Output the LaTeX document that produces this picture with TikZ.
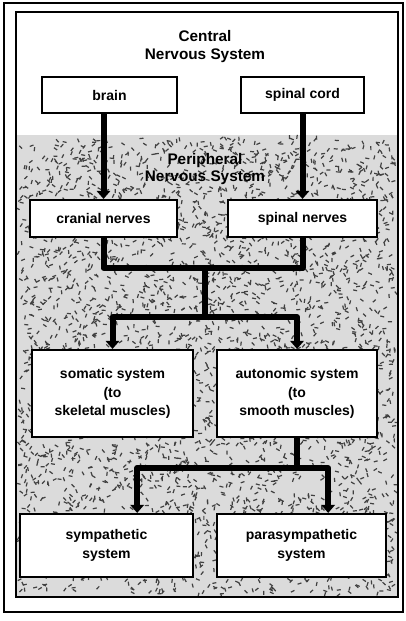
\documentclass[tikz,border=0pt]{standalone}
\usepackage{fontspec}
\setmainfont{Liberation Sans}
\usetikzlibrary{arrows.meta}

\tikzset{
  sysbox/.style={draw, line width=1.6pt, fill=white, align=center, inner sep=0pt,
    font=\bfseries\fontsize{10.5}{14}\selectfont},
  heading/.style={align=center, font=\bfseries\fontsize{11.5}{13}\selectfont},
  trunk/.style={line width=4.5pt, line join=round},
  flow/.style={trunk, -{Triangle[width=10pt,length=6pt]}},
  speck/.style={black!75, line width=0.9pt}
}

\begin{document}
\begin{tikzpicture}[x=0.75pt, y=-0.75pt]
  \useasboundingbox (0,0) rectangle (406,621);
  % frames and shaded peripheral part
  \draw[line width=1.2pt] (4,3) rectangle (403,612);
  \fill[black!14] (16,135) rectangle (398,597);
  \pgfmathsetseed{11}
  \foreach \i in {1,...,3500}{
    \pgfmathsetmacro{\px}{19+376*rnd}
    \pgfmathsetmacro{\py}{138+456*rnd}
    \pgfmathsetmacro{\pa}{360*rnd}
    \draw[speck] (\px,\py) -- ++(\pa:4);
  }
  \draw[line width=1.6pt] (16,12) rectangle (398,597);

  % headings
  \node[heading] (cns) at (205,46.5) {Central\\Nervous System};
  \node[heading] (pns) at (205,169) {Peripheral\\Nervous System};

  % boxes
  \node[sysbox, minimum width=101.25pt, minimum height=27pt] (brain) at (109.5,95) {brain};
  \node[sysbox, minimum width=92.25pt, minimum height=27pt] (cord) at (302.5,95) {spinal cord};
  \node[sysbox, minimum width=110.25pt, minimum height=27.75pt] (cranial) at (103.5,218.5) {cranial nerves};
  \node[sysbox, minimum width=111.75pt, minimum height=27.75pt] (spinal) at (302.5,218.5) {spinal nerves};
  \node[sysbox, minimum width=120.75pt, minimum height=65.25pt] (somatic) at (112.5,393.5) {somatic system\\(to\\skeletal muscles)};
  \node[sysbox, minimum width=120pt, minimum height=65.25pt] (autonomic) at (297,393.5) {autonomic system\\(to\\smooth muscles)};
  \node[sysbox, minimum width=129.75pt, minimum height=47.25pt] (symp) at (106.5,545.5) {sympathetic\\system};
  \node[sysbox, minimum width=126.75pt, minimum height=47.25pt] (para) at (301.5,545.5) {parasympathetic\\system};

  % connectors
  \coordinate (join) at (205,268);
  \coordinate (split) at (205,317);
  \coordinate (split2) at (297,468);
  \draw[flow] (brain.south -| cranial.north) -- (cranial.north);
  \draw[flow] (cord.south) -- (spinal.north);
  \draw[trunk] (cranial.south) |- (join) -| (spinal.south);
  \draw[trunk] (join) -- (split);
  \draw[flow] (split) -| (somatic.north);
  \draw[flow] (split) -| (autonomic.north);
  \draw[trunk] (autonomic.south) -- (split2);
  \draw[flow] (split2) -| ([xshift=23pt]symp.north);
  \draw[flow] (split2) -| ([xshift=20pt]para.north);
\end{tikzpicture}
\end{document}
